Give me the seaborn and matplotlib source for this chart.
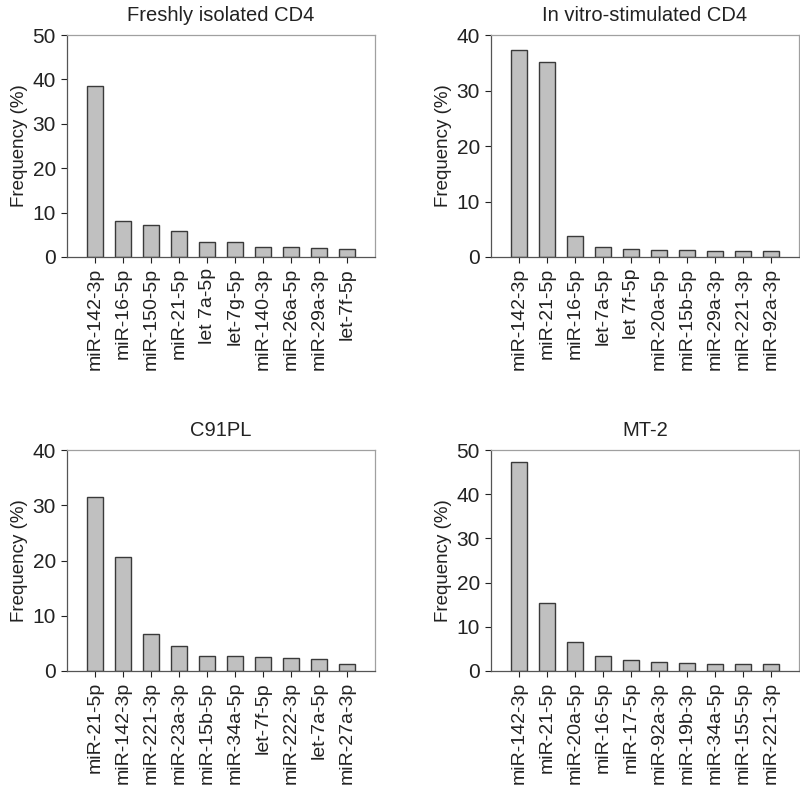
import pandas as pd
import numpy as np
import matplotlib
matplotlib.use("Agg")
import matplotlib.pyplot as plt
import seaborn as sns

# data
fresh_labels = ['miR-142-3p', 'miR-16-5p', 'miR-150-5p', 'miR-21-5p', 'let 7a-5p',
                'let-7g-5p', 'miR-140-3p', 'miR-26a-5p', 'miR-29a-3p', 'let-7f-5p']
fresh_values = [38.6, 8.2, 7.1, 5.8, 3.3, 3.3, 2.25, 2.2, 1.95, 1.75]

stim_labels = ['miR-142-3p', 'miR-21-5p', 'miR-16-5p', 'let-7a-5p', 'let 7f-5p',
               'miR-20a-5p', 'miR-15b-5p', 'miR-29a-3p', 'miR-221-3p', 'miR-92a-3p']
stim_values = [37.3, 35.1, 3.7, 1.8, 1.5, 1.35, 1.2, 1.0, 1.0, 1.0]

c91_labels = ['miR-21-5p', 'miR-142-3p', 'miR-221-3p', 'miR-23a-3p', 'miR-15b-5p',
              'miR-34a-5p', 'let-7f-5p', 'miR-222-3p', 'let-7a-5p', 'miR-27a-3p']
c91_values = [31.5, 20.6, 6.65, 4.6, 2.65, 2.65, 2.5, 2.35, 2.2, 1.25]

mt2_labels = ['miR-142-3p', 'miR-21-5p', 'miR-20a-5p', 'miR-16-5p', 'miR-17-5p',
              'miR-92a-3p', 'miR-19b-3p', 'miR-34a-5p', 'miR-155-5p', 'miR-221-3p']
mt2_values = [47.3, 15.3, 6.6, 3.4, 2.4, 2.1, 1.75, 1.65, 1.5, 1.5]

titles = ['Freshly isolated CD4', 'In vitro-stimulated CD4', 'C91PL', 'MT-2']
ymaxes = [50, 40, 40, 50]

sns.set_style("white")
plt.rcParams['font.family'] = ['Liberation Sans', 'DejaVu Sans']

fig = plt.figure(figsize=(8.0, 7.96), dpi=100)
W, H = 800, 796
# axes boxes in pixels: left, top, right, bottom
boxes = [(67, 35, 375, 257), (491, 35, 799, 257),
         (67, 450, 375, 671), (491, 450, 799, 671)]

panels = [(fresh_labels, fresh_values), (stim_labels, stim_values),
          (c91_labels, c91_values), (mt2_labels, mt2_values)]

for (labels, values), title, ymax, (l, t, r, b) in zip(panels, titles, ymaxes, boxes):
    ax = fig.add_axes([l / W, 1 - b / H, (r - l) / W, (b - t) / H])
    df = pd.DataFrame({'mirna': labels, 'freq': values})
    sns.barplot(data=df, x='mirna', y='freq', ax=ax, color='#c0c0c0',
                edgecolor='#3a3a3a', linewidth=1.0, width=0.6, saturation=1)
    ax.set_xlim(-1.0, 10.0)
    ax.set_ylim(0, ymax)
    ax.set_yticks(np.arange(0, ymax + 1, 10))
    ax.set_xlabel('')
    ax.set_ylabel('Frequency (%)', fontsize=13.5, color='#222222', labelpad=3)
    ax.set_title(title, fontsize=14.5, color='#222222', pad=10)
    ax.tick_params(axis='x', labelrotation=90, labelsize=14, colors='#222222',
                   direction='out', length=4, width=0.8, bottom=True, pad=4)
    ax.tick_params(axis='y', labelsize=15, colors='#222222',
                   direction='out', length=4, width=0.8, left=True, pad=4)
    for side in ['left', 'bottom']:
        ax.spines[side].set_color('#555555')
        ax.spines[side].set_linewidth(0.9)
    for side in ['top', 'right']:
        ax.spines[side].set_color('#a0a0a0')
        ax.spines[side].set_linewidth(0.9)

fig.savefig('out.png', dpi=100)
